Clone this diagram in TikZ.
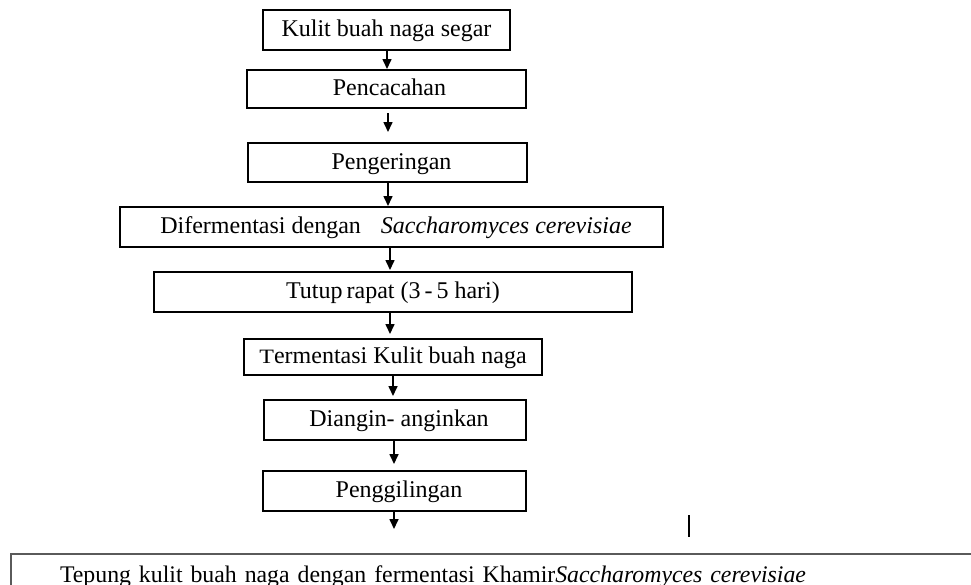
\documentclass[tikz,border=0pt]{standalone}
\usepackage{fontspec}
\setmainfont{Liberation Serif}
\usetikzlibrary{arrows.meta}
\definecolor{edgegray}{RGB}{90,90,90}
\begin{document}
\begin{tikzpicture}[x=1pt,y=-1pt,
  txt/.style={font=\fontsize{24}{28}\selectfont},
  box/.style={txt, draw, line width=2pt, inner sep=0pt, text height=18pt, text depth=5pt},
  arr/.style={line width=1.6pt, -{Triangle[length=10pt,width=9pt]}}]
\useasboundingbox (0,0) rectangle (971,584);
\clip (0,0) rectangle (971,584);
\fill[white] (0,0) rectangle (971,584);

\node[box, minimum width=247pt, minimum height=40pt] (b1) at (386.5,30) {Kulit buah naga segar};
\node[box, minimum width=279pt, minimum height=38pt] (b2) at (386.5,89) {\hspace*{6pt}Pencacahan};
\node[box, minimum width=279pt, minimum height=39pt] (b3) at (387.5,162.5) {\hspace*{8pt}Pengeringan};
\node[box, minimum width=543pt, minimum height=40pt] (b4) at (391.5,227) {\hspace*{9pt}Difermentasi dengan\hspace{20pt}\textit{Saccharomyces cerevisiae}};
\node[box, minimum width=478pt, minimum height=40pt] (b5) at (393,292) {Tutup\,rapat (3\,-\,5 hari)};
\node[box, minimum width=298pt, minimum height=36pt] (b6) at (393,357) {\scalebox{1}[0.85]{T}ermentasi Kulit buah naga};
\node[box, minimum width=262pt, minimum height=40pt] (b7) at (395,420) {\hspace*{8pt}Diangin- anginkan};
\node[box, minimum width=263pt, minimum height=40pt] (b8) at (394.5,491) {\hspace*{9pt}Penggilingan};

\node[font=\fontsize{23.8}{28}\selectfont, draw=edgegray, line width=2pt, anchor=north west, text width=900pt,
      inner xsep=49pt, inner ysep=10pt, text height=18pt, text depth=5pt, align=left]
  (b9) at (10,553) {Tepung kulit buah naga dengan fermentasi Khamir\textit{Saccharomyces cerevisiae}};

\coordinate (a1) at (387,0);
\coordinate (a2) at (388,0);
\coordinate (a3) at (388,0);
\coordinate (a4) at (390,0);
\coordinate (a5) at (390,0);
\coordinate (a6) at (393,0);
\coordinate (a7) at (394,0);
\coordinate (endpt) at (394,529);

\draw[arr] (b1.south -| a1) -- (b2.north -| a1);
\draw[arr, shorten <=4pt, shorten >=10pt] (b2.south -| a2) -- (b3.north -| a2);
\draw[arr] (b3.south -| a3) -- (b4.north -| a3);
\draw[arr, shorten >=1pt] (b4.south -| a4) -- (b5.north -| a4);
\draw[arr, shorten >=4pt] (b5.south -| a5) -- (b6.north -| a5);
\draw[arr, shorten >=3pt] (b6.south -| a6) -- (b7.north -| a6);
\draw[arr, shorten >=6pt] (b7.south -| a7) -- (b8.north -| a7);
\draw[arr] (b8.south -| endpt) -- (endpt);

\coordinate (m1) at (689,515);
\coordinate (m2) at (689,537);
\draw[line width=2pt] (m1) -- (m2);
\end{tikzpicture}
\end{document}
